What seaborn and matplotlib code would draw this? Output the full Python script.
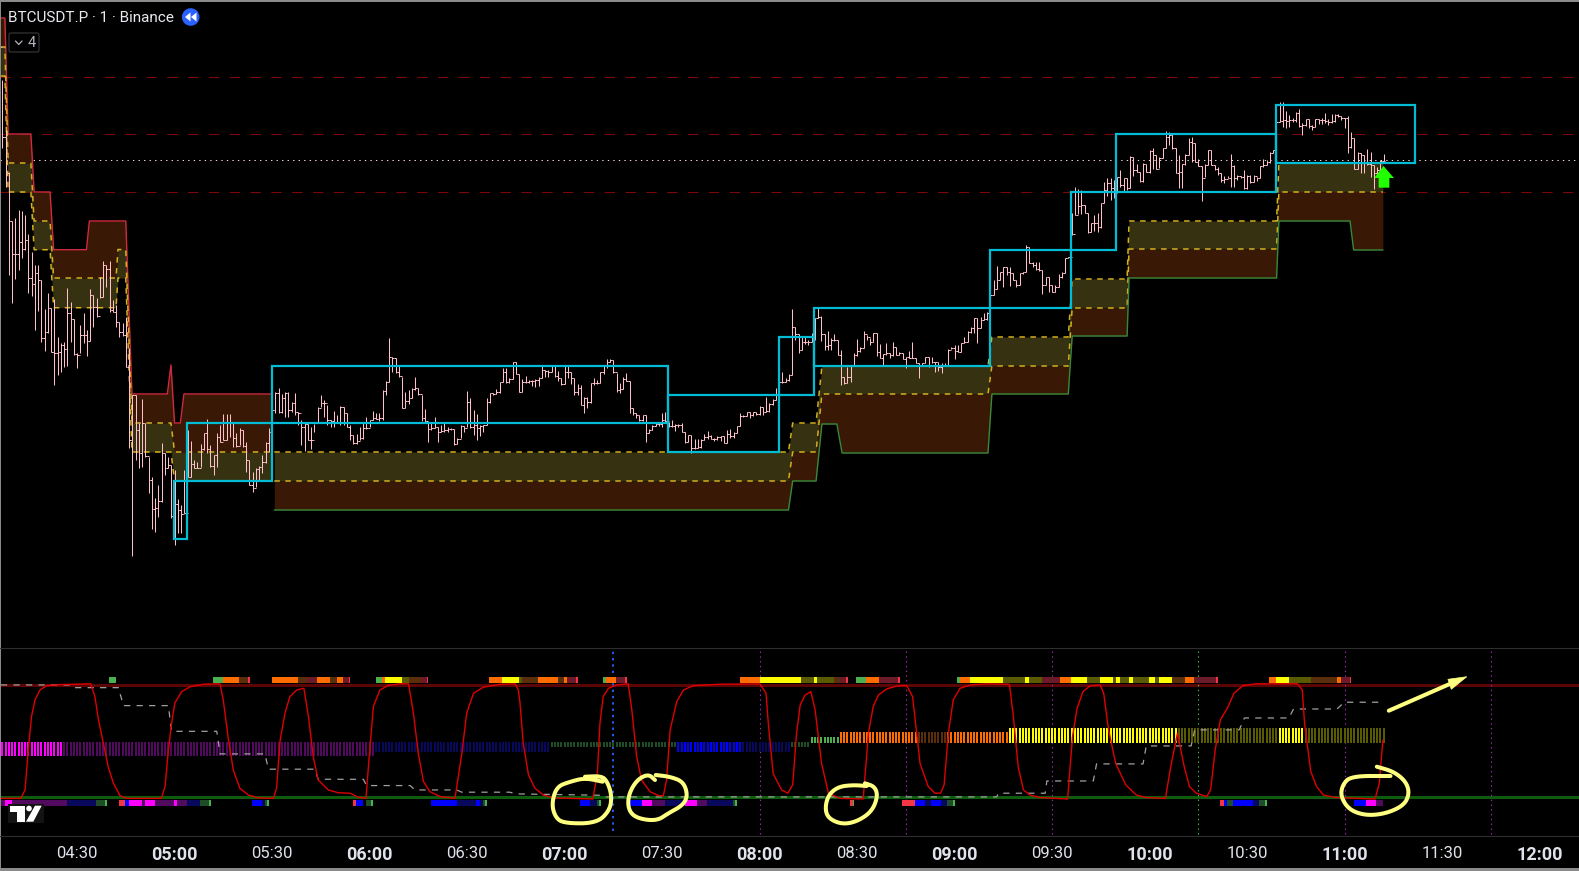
import numpy as np
import pandas as pd
import matplotlib
matplotlib.use('Agg')
import matplotlib.pyplot as plt
from matplotlib.patches import Rectangle, Polygon, Circle, FancyBboxPatch
import seaborn as sns

# price levels are kept as screen rows, x is minutes of the day
hi_a = [42,80,130,172,221,218,210,211,215,234, 252,265,265,280,309,293,308,299,337,343,
        342,288,302,319,353,325,313,330,289,295, 298,277,261,265,261,300,305,322,323,317,
        348,395,395,423,399,423,457,477,498,485, 443,453,457,465,470,499,505,470,430,441,
        460,462,444,433,419,445,455,433,425,414, 414,414,422,433,428,430,442,460,472,468,
        466,455,442,428,410]
lo_a = [72,148,187,275,303,279,270,258,250,293, 296,330,311,342,351,333,352,385,375,372,
        367,366,342,355,368,353,343,356,341,327, 317,298,297,287,312,312,327,337,336,367,
        448,556,460,468,467,457,493,529,532,517, 502,475,468,518,545,533,533,513,477,477,
        468,468,467,450,453,467,475,467,442,440, 440,437,447,447,445,447,472,485,492,487,
        480,473,463,452,450]
cl_a = [47,137,173,221,254,254,242,249,240,278, 284,273,280,338,332,308,352,353,352,345,
        349,313,319,354,355,335,335,341,295,307, 316,297,265,269,310,312,322,332,335,367,
        440,395,430,453,423,456,480,509,508,501, 453,468,465,516,504,510,514,513,477,464,
        468,468,449,433,449,466,455,437,442,440, 422,422,438,446,430,446,460,485,488,469,
        467,462,443,432,410]

hi_b = [392,388,394,392,392,402,393,412,420,423, 424,427,424,407,395,400,405,420,411,415,
        406,407,413,425,435,434,427,423,417,420, 411,413,413,390,381,338,357,358,365,377,
        392,390,388,377,388,395,409,422,422,417, 427,425,423,427,428,429,438,425,426,391,
        398,410,414,425,425,398,393,393,389,382, 368,368,378,362,362,374,379,376,380,380,
        379,377,366,370,370]
lo_b = [413,413,413,417,417,412,415,425,445,451, 440,449,432,423,407,417,425,427,427,423,
        425,425,427,440,444,444,440,439,429,427, 420,419,421,420,395,382,372,373,377,408,
        408,404,398,390,395,421,422,442,430,428, 442,432,432,432,430,445,444,438,432,427,
        428,435,440,436,432,425,403,395,394,393, 382,383,383,379,374,392,392,383,383,386,
        387,386,378,377,377]
cl_b = [393,412,398,393,410,403,412,413,427,424, 440,440,423,408,403,403,420,421,423,422,
        407,413,427,435,443,441,438,428,428,420, 418,419,418,391,382,357,358,372,376,408,
        401,398,389,388,394,418,421,429,428,427, 432,431,430,429,429,444,439,426,428,402,
        427,425,428,426,425,402,393,394,392,382, 372,382,379,362,374,392,382,382,381,381,
        380,378,370,371,372]

hi_c = [365,365,371,378,365,365,372,378,384,385, 397,397,383,378,380,372,365,359,359,360,
        373,383,377,373,381,408,413,415,415,415, 429,425,422,423,413,412,422,420,424,424,
        423,432,435,435,439,439,439,434,431,435, 438,436,436,436,430,429,432,426,413,415,
        412,412,412,412,406,407,397,403,399,388, 381,372,378,374,309,327,334,337,337,340,
        333,318,308]
lo_c = [372,377,381,385,384,378,384,395,395,405, 413,408,403,385,384,383,374,368,362,373,
        392,393,389,381,413,415,418,421,421,442, 433,430,426,426,427,422,427,427,431,427,
        432,443,442,453,449,448,448,440,439,439, 441,440,441,443,443,438,438,433,426,417,
        416,418,416,415,415,415,412,412,405,400, 395,383,382,381,375,340,353,350,344,345,
        342,340,318]
cl_c = [366,376,378,384,372,372,378,392,388,405, 398,402,383,383,383,372,366,362,360,372,
        390,389,379,381,408,413,415,420,415,433, 430,426,424,424,420,421,426,426,425,425,
        432,442,435,448,448,447,440,437,436,439, 439,437,436,443,434,436,433,426,416,416,
        412,415,412,414,407,412,411,404,400,394, 382,382,380,375,327,334,350,342,342,342,
        339,318,317]

hi_d = [316,334,331,338,334,340,350,377,367,365, 353,339,347,331,335,338,333,333,344,354,
        343,353,342,347,352,353,357,351,342,358, 363,363,357,357,357,362,362,363,363,349,
        347,345,345,343,337,331,327,318,318,317, 313,312,277,280,266,272,267,267,267,273,
        280,273,272,245,247,262,262,262,270,277, 277,285,285,274,272,258,257]
lo_d = [341,350,350,350,341,355,385,384,383,382, 365,356,352,348,340,345,342,356,358,365,
        355,358,356,355,355,359,368,358,358,363, 378,365,363,367,363,372,371,373,366,365,
        349,359,352,352,343,342,333,333,343,328, 320,320,312,295,289,280,287,275,286,280,
        287,285,274,272,263,267,270,271,294,285, 292,292,292,287,278,273,258]
cl_d = [334,346,345,340,340,355,377,383,377,365, 355,351,348,334,337,342,333,352,358,354,
        353,355,347,355,353,359,357,358,358,363, 365,363,357,365,362,362,367,365,365,350,
        348,351,352,343,342,332,328,318,328,320, 319,313,295,289,280,272,267,272,273,280,
        285,273,272,247,263,265,269,270,285,277, 285,292,287,277,273,258,257]

hi_e = [213,187,189,190,205,213,223,215,213,203, 182,178,178,180,177,170,178,178,156,157,
        164,172,163,164,150,148,155,157,148,131, 132,134,148,155,164,154,138,137,143,159,
        166,164,150,150,165,167,173,176,176,154, 165,175,176,170,175,175,175,177,166,159,
        160,152,150,120,102,102,111,115,118,112, 109,123,119,119,125,119,119,118,113,119,
        114,114,114,116,118,116,132,138,152,153, 155,149,152,165,167,160,154]
lo_e = [235,215,214,214,213,233,232,231,232,228, 203,196,200,198,192,187,192,190,188,176,
        172,182,182,172,173,169,169,168,158,148, 145,149,173,188,188,165,155,162,162,166,
        201,177,165,165,170,175,182,183,178,187, 187,180,178,189,189,183,182,181,178,167,
        165,163,153,164,122,127,128,127,122,122, 127,135,126,128,130,127,124,124,123,125,
        123,122,117,120,128,153,148,169,169,173, 173,165,177,189,175,170,161]
cl_e = [234,215,206,205,213,232,223,223,227,203, 190,183,188,193,177,185,178,188,157,170,
        172,181,164,172,151,155,169,158,148,137, 135,148,173,172,164,155,142,143,162,166,
        178,165,150,165,169,173,180,179,178,166, 178,176,177,188,176,182,176,178,166,165,
        162,153,150,122,121,120,121,120,120,113, 126,125,119,126,127,119,120,120,121,122,
        121,115,116,118,118,147,138,169,153,155, 163,164,165,173,170,161,161]

# resistance stack on the left side of the chart
upper_t = [246.5,247.8,248.8,255.8,256.8,261.7,262.8,272.9,273.8,282.0,282.6,285.0,286.9,297.8,298.9,300.0,301.8,302.9,329.7]
upper_red = [18,18,134,134,192,192,249.7,249.7,221,221,221,221,394,394,365,423,423,394,394]
upper_mid = [47,47,163,163,221,221,278,278,278,278,249.5,249.5,423,423,423,452,452,452,452]
upper_low = [76,76,192,192,249.7,249.7,307.7,307.7,307.7,307.7,278,278,452,452,452,481,481,481,481]

# support stack, later part of the chart
lower_t = [330.7,488.9,490.2,497.4,499.2,503.8,505.4,550.3,551.5,575.0,576.2,593.1,593.7,639.1,639.8,661.7,662.8,671.8]
lower_top = [452,452,423,423,366,366,366,366,337,337,279,279,221,221,163,163,163,163]
lower_mid = [481,481,452,452,394,394,394,394,366,366,308,308,249,249,192,192,192,192]
lower_green = [510,510,481,481,424,424,453,453,394,394,336,336,278,278,221,221,250,250]

box_start = [299.8,303.8,330.0,451.8,486.0,496.8,551.0,575.8,589.7,638.9]
box_end = [303.8,330.0,451.8,486.0,496.8,551.0,575.8,589.7,638.9,681.8]
box_top = [481,423,366,395,337,308,250,192,134,105]
box_bottom = [539,481,423,452,395,366,308,250,192,163]

level_rows = [76.7,134,192]
last_price_row = 160.5

osc_t = [246.6,252.7,254,255,256,257.1,258.6,260.7,264.8,274.2,275.5,276.6,278.1,279.6,281.2,283.2,285.3,295.9,297.1,298.1,
         299.1,300.1,302.2,304.8,308.9,314,315,316.6,318.1,320.1,322.7,325.8,330.4,331.4,332.5,334,335.5,337.6,339.8,341.2,
         342.7,344.2,347.3,350.4,354,356.6,358.9,359.9,361.2,363.2,365.8,369.4,372,373.5,375,376.6,378.6,381.7,386.3,388.4,
         389.9,392,395,400.2,404.8,405.8,406.3,407.3,408.9,410.9,413.5,416.6,428.7,430.1,430.9,431.9,433.5,436,439.6,440.7,
         442.2,443.7,446.3,448.9,450.4,451.4,452.5,454.5,456.6,459.6,467.8,480.1,482,482.7,484.2,486.8,488.7,490.2,491.4,492.5,
         494,495.8,497.1,499.1,501.2,504.8,511.9,513.5,515,516.6,519.1,522.2,525.3,527.1,529.4,531.9,534,535.7,536.8,538.1,
         539.6,541.7,544.8,549.9,556.9,558.1,559.6,561.2,563.2,566.3,574.8,576.3,577.7,579.5,581.6,584.8,585.9,587.4,589.6,592.7,
         595.9,599.1,604.9,606.5,608.6,610.7,612.3,614.4,617.6,618.8,620.2,621.8,623.9,626,628.7,632.9,645.6,647,647.7,649.6,
         651.4,653.5,657.2,669.4,670.7,671.8]
osc_v = [-1,-1,6.5,42,72,87,95.5,99.4,100.3,101,89.6,69,48,27,12.5,1.5,-1,-1,9.5,42,
         66,84,94,98.5,100.6,101,86.6,51,24,8,2,-0.6,-1,8,51,75,89.6,95.5,97,72,
         36,15.4,6.5,4,3.6,0,-1,36,81,95.5,99.7,101,101,75,39,14,5,0.6,-1,39,
         75,92.6,98,100.6,101,95.5,84,48,20,8,2,-0.6,-1.5,21,66,89.6,97,100,101,78,
         36,15.4,5,1.5,1.2,15.4,60,85,95.5,99.4,100.6,101,92.6,66,21,6.5,3.6,11,57,82,
         91,94,78,30,3.6,-1,-1.5,57,81,91,96.4,99,99.4,89.6,30,9.5,3.6,3.6,11,57,
         86.6,97,100,101,100.6,72,27,6.5,2,-0.3,-1.5,54,79,94,99,100,92.6,60,30,11,
         2,-0.3,-1,27,57,27,9.5,3.6,0.6,6.5,42,69,79,92.6,99.4,101,101,95.5,66,23,
         9.5,2,-0.3,-1.5,12.5,51]

# grey dashed stepped average: flat stretch, then the next one
avg_t = [246.6,267.8,268.9,282.7,284.3,298.1,299.1,313,314,327.8,328.9,343.2,344.2,358.1,359.1,372.5,374,386.8,388.4,403.2,
         404.8,431,432,553,553.5,563.2,567.9,568.4,582.7,583.7,598,599,612.8,613.9,627.6,629.2,642.9,644.3,657.7,659.9,671.8]
avg_v = [100,100,97.6,97.6,81.6,81.6,58.7,58.7,38.6,38.6,25,25,16,16,10.4,10.4,6.5,6.5,4.5,4.5,
         3,1.8,0.3,0.3,3.6,3.6,3.6,14.5,14.5,29.7,29.7,45.7,45.7,60,60,70.6,70.6,78.6,78.6,84.6,84.6]

hist_start = [247,266,362,416,455,475,490,496,505,529,538,557,609,640,648]
hist_end = [265,361,415,454,474,489,495,504,528,537,556,608,639,647,672]
hist_state = ['magenta','purple','navy','dkgreen','blue','navy','dkgreen','green','orange','brown','orange','yellow','olive','yellow','olive']
hist_top = [49.3,49.3,49.3,49.3,49.3,49.3,49.3,53.7,58,58,58,61.7,61.7,61.7,61.7]
hist_bottom = [37,37,40.4,44.8,40.4,40.4,44.8,48.4,48.4,48.4,48.4,48.4,48.4,48.4,48.4]

top_strip = [(279.8,282,'green'),(311.9,315,'green'),(315,319.8,'orange'),(319.8,322.5,'brown'),(322.5,323.2,'red'),
             (330,337.9,'orange'),(337.9,340.9,'brown'),(340.9,343.7,'dkred'),(343.7,347.8,'orange'),(347.8,349.9,'brown'),
             (349.9,351.9,'orange'),(351.9,353.8,'dkred'),(353.8,354,'red'),(362,363.8,'green'),(363.8,364.8,'orange'),
             (364.8,370,'yellow'),(370,372,'olive'),(372,375.7,'brown'),(375.7,377.8,'dkred'),(377.8,378,'red'),
             (396.8,400.7,'orange'),(400.7,406,'yellow'),(406,406.8,'olive'),(406.8,411.7,'brown'),(411.7,418,'orange'),
             (418,419.8,'brown'),(419.8,420.8,'orange'),(420.8,423.5,'dkred'),(423.5,424.1,'red'),(431.8,432.8,'green'),
             (432.8,435.8,'orange'),(435.8,438.6,'dkred'),(438.6,439.2,'red'),(474,480,'orange'),(480,492.8,'yellow'),
             (492.8,496.8,'olive'),(496.8,497.7,'yellow'),(497.7,502.9,'olive'),(502.9,504.8,'brown'),(504.8,506.6,'dkred'),
             (506.6,507.2,'red'),(509.7,512.7,'green'),(512.7,516.8,'orange'),(516.8,522.6,'dkred'),(522.6,523.2,'red'),
             (540.8,541.7,'green'),(541.7,544.8,'orange'),(544.8,554.9,'yellow'),(554.9,561.7,'olive'),(561.7,562.9,'yellow'),
             (562.9,566.9,'olive'),(566.9,572.6,'dkred'),(572.6,575.8,'orange'),(575.8,580.8,'yellow'),(580.8,584.8,'olive'),
             (584.8,588.8,'yellow'),(588.8,589.7,'olive'),(589.7,590.9,'yellow'),(590.9,593.7,'olive'),(593.7,594.9,'yellow'),
             (594.9,599.8,'olive'),(599.8,601.7,'yellow'),(601.7,602.9,'olive'),(602.9,607,'yellow'),(607,610.9,'brown'),
             (610.9,613.7,'orange'),(613.7,620.4,'dkred'),(620.4,621,'red'),(636.7,638.9,'orange'),(638.9,642.8,'yellow'),
             (642.8,649.6,'olive'),(649.6,657.6,'brown'),(657.6,658.9,'orange'),(658.9,661.6,'dkred'),(661.6,661.9,'red')]

bottom_strip = [(246.6,247.8,'purple'),(247.8,250,'magenta'),(250,266.8,'purple'),(266.8,275.8,'navy'),(275.8,278.6,'dkgreen'),
                (278.6,279.2,'green'),(282.9,284.8,'red'),(284.8,286,'blue'),(286,290,'magenta'),(290,290.9,'purple'),
                (290.9,294,'magenta'),(294,299.8,'purple'),(299.8,300.8,'magenta'),(300.8,303.8,'purple'),(303.8,307.8,'navy'),
                (307.8,310.6,'dkgreen'),(310.6,311.2,'green'),(323.8,326.9,'blue'),(326.9,327.8,'navy'),(327.8,328.4,'dkgreen'),
                (328.4,329.1,'green'),(354.9,355.8,'red'),(355.8,358,'blue'),(358.9,360.5,'dkgreen'),(360.5,361.1,'green'),
                (378.9,386.9,'blue'),(386.9,392.8,'navy'),(392.8,394,'blue'),(394,394.9,'navy'),(394.9,395.5,'dkgreen'),
                (395.5,396.1,'green'),(424.8,427.8,'blue'),(427.8,430,'navy'),(430,430.6,'dkgreen'),(430.6,431.2,'green'),
                (439.9,443.8,'blue'),(443.8,446.9,'magenta'),(446.9,450.9,'purple'),(450.9,457,'navy'),(457,460.8,'magenta'),
                (460.8,463.8,'purple'),(463.8,471.8,'navy'),(471.8,472.5,'dkgreen'),(472.5,473.1,'green'),(507.8,508.8,'red'),
                (508.8,509.1,'green'),(523.8,527.8,'red'),(527.8,530.9,'blue'),(530.9,532.8,'navy'),(532.8,535.8,'blue'),
                (535.8,537.7,'navy'),(537.7,539.5,'dkgreen'),(539.5,540.1,'green'),(621.7,622.9,'red'),(622.9,623.8,'blue'),
                (623.8,625.7,'dkgreen'),(625.7,631.8,'blue'),(631.8,633.6,'navy'),(633.6,635.5,'dkgreen'),(635.5,636.1,'green'),
                (662.8,666.7,'blue'),(666.7,669.7,'magenta'),(669.7,671.8,'purple')]

session_minutes = [480,525,570,660,705]
tick_minutes = list(range(270,721,30))
tick_labels = ['04:30','05:00','05:30','06:00','06:30','07:00','07:30','08:00','08:30','09:00','09:30','10:00','10:30','11:00','11:30','12:00']

# hand drawn yellow marks, screen pixels
scrawl_1 = [(585,776.7),(601.7,776),(607.3,781.7),(611.7,795),(610,810),(596.7,823.3),(563.3,823.3),(555,816.7),(551.7,803.3),(556.7,786.7),(570,781.7),(585,778),(602.7,781.7)]
scrawl_2 = [(655,780),(648.3,774),(636.7,780),(628.3,795),(628.3,810),(636.7,818.3),(656.7,821),(668.3,813.3),(683.3,805),(687.7,795),(683.3,781.7),(670,776.7),(655.7,775)]
scrawl_3 = [(865,783.3),(875,786.7),(877.7,796.7),(871.7,811.7),(856.7,821.7),(841.7,824.3),(828.3,818.3),(825,808.3),(828.3,795),(838.3,786.7),(853.3,785),(866.7,786)]
scrawl_4 = [(1376.8,766.7),(1394,771.7),(1406,781.7),(1409.4,793.3),(1404.3,805),(1387,813.3),(1366.5,815.7),(1349.3,810),(1340.7,796.7),(1342.4,785),(1351,776),(1390.5,776)]

colors = {'magenta':'#ff00ff','purple':'#520a5e','navy':'#08085c','dkgreen':'#1f4d28','green':'#4caf50','blue':'#0000ff',
          'orange':'#ff6d00','brown':'#5a2e0a','dkred':'#6a1a28','red':'#f23645','yellow':'#ffff00','olive':'#5a5a00'}
brown_fill = '#391805'
olive_fill = '#363211'
dash_yellow = '#d4b020'
pink = '#ffc0cb'

sns.set_theme(style='dark', rc={'figure.facecolor':'black','axes.facecolor':'black','savefig.facecolor':'black'})
plt.rcParams['font.family'] = ['Roboto','DejaVu Sans']


def bar_frame(start, hi, lo, cl):
    return pd.DataFrame({'t': start+np.arange(len(cl)), 'hi': hi, 'lo': lo, 'cl': cl})


def soften(pts, rounds=3):
    # corner cutting so the hand drawn strokes do not look like polygons
    pts = np.array(pts, dtype=float)
    for _ in range(rounds):
        q = 0.75*pts[:-1]+0.25*pts[1:]
        r = 0.25*pts[:-1]+0.75*pts[1:]
        pts = np.vstack([pts[0], np.column_stack([q, r]).reshape(-1, 2), pts[-1]])
    return pts


bars = pd.concat([bar_frame(246,hi_a,lo_a,cl_a), bar_frame(331,hi_b,lo_b,cl_b), bar_frame(416,hi_c,lo_c,cl_c),
                  bar_frame(499,hi_d,lo_d,cl_d), bar_frame(576,hi_e,lo_e,cl_e)], ignore_index=True)
bars['op'] = bars['cl'].shift(1).fillna(bars['hi'])
upper = pd.DataFrame({'t':upper_t,'red':upper_red,'mid':upper_mid,'low':upper_low})
lower = pd.DataFrame({'t':lower_t,'top':lower_top,'mid':lower_mid,'green':lower_green})
osc = pd.DataFrame({'t':osc_t,'v':osc_v})
avg = pd.DataFrame({'t':avg_t,'v':avg_v})

W, H = 1579, 871
fig = plt.figure(figsize=(W/100,H/100), dpi=100)
ax = fig.add_axes([0,(H-648)/H,1,(648-3)/H])
ax2 = fig.add_axes([0,(H-836)/H,1,(836-648)/H])
xlim = (246.3,246.3+W/3.25)
for a in (ax,ax2):
    a.set_xlim(xlim)
    for s in a.spines.values():
        s.set_visible(False)
ax.set_ylim(648,3)
ax2.set_ylim(-34.5,132.9)

# main pane
for r in level_rows:
    ax.axhline(r,color='#7f0606',lw=0.75,ls=(0,(10,10)),zorder=1)
ax.axhline(last_price_row,color='#f5d5dc',lw=0.75,ls=(0,(1.3,4)),zorder=1)

ax.fill_between(upper['t'],upper['red'],upper['mid'],color=brown_fill,lw=0,zorder=2)
ax.fill_between(upper['t'],upper['mid'],upper['low'],color=olive_fill,lw=0,zorder=2)
ax.fill_between(lower['t'],lower['top'],lower['mid'],color=olive_fill,lw=0,zorder=2)
ax.fill_between(lower['t'],lower['mid'],lower['green'],color=brown_fill,lw=0,zorder=2)

dash = (0,(3.6,3.6))
sns.lineplot(data=upper,x='t',y='red',ax=ax,color='#d02a3e',lw=1,estimator=None,sort=False,zorder=3)
sns.lineplot(data=upper,x='t',y='mid',ax=ax,color=dash_yellow,lw=1.1,linestyle=dash,estimator=None,sort=False,zorder=3)
sns.lineplot(data=upper,x='t',y='low',ax=ax,color=dash_yellow,lw=1.1,linestyle=dash,estimator=None,sort=False,zorder=3)
sns.lineplot(data=lower,x='t',y='top',ax=ax,color=dash_yellow,lw=1.1,linestyle=dash,estimator=None,sort=False,zorder=3)
sns.lineplot(data=lower,x='t',y='mid',ax=ax,color=dash_yellow,lw=1.1,linestyle=dash,estimator=None,sort=False,zorder=3)
sns.lineplot(data=lower,x='t',y='green',ax=ax,color='#358a3a',lw=1,estimator=None,sort=False,zorder=3)

bar_lw = 0.72
ax.vlines(bars['t'],bars['hi'],bars['lo'],color=pink,lw=bar_lw,zorder=4,snap=True)
ax.hlines(bars['op'],bars['t']-0.5,bars['t'],color=pink,lw=bar_lw,zorder=4,snap=True)
ax.hlines(bars['cl'],bars['t'],bars['t']+0.5,color=pink,lw=bar_lw,zorder=4,snap=True)

for s,e,t,b in zip(box_start,box_end,box_top,box_bottom):
    ax.add_patch(Rectangle((s,t),e-s,b-t,fill=False,ec='#00bcd4',lw=1.6,zorder=5))

# signal arrow under the last bar
arrow_t = [672,669.1,670.5,670.5,673.8,673.8,675.2]
arrow_y = [166,178,178,187.7,187.7,178,178]
ax.add_patch(Polygon(list(zip(arrow_t,arrow_y)),closed=True,fc='#22ff00',ec='none',zorder=6))

# oscillator pane
ax2.axhline(100,color='#5c0505',lw=2.2,zorder=1)
ax2.axhline(0,color='#0f5c0f',lw=2.2,zorder=1)
for m in session_minutes:
    ax2.vlines(m,-33,131,color='#9c27b0',lw=0.8,ls=(0,(1.3,3)),zorder=1)
ax2.vlines(615,-33,131,color='#4caf50',lw=0.8,ls=(0,(1.3,3)),zorder=1)
ax2.vlines(435,-30,131,color='#2962ff',lw=1.3,ls=(0,(1.3,2.2)),zorder=1)

for s,e,state,t,b in zip(hist_start,hist_end,hist_state,hist_top,hist_bottom):
    m = np.arange(s,e+1)
    ax2.vlines(m,b,t,color=colors[state],lw=1.44,zorder=2,snap=True)
for s,e,state in top_strip:
    ax2.broken_barh([(s,e-s)],(102,5.1),color=colors[state],lw=0,zorder=2)
for s,e,state in bottom_strip:
    ax2.broken_barh([(s,e-s)],(-7.4,5),color=colors[state],lw=0,zorder=2)

sns.lineplot(data=avg,x='t',y='v',ax=ax2,color='#a0a0a0',lw=0.9,linestyle=(0,(5,5)),estimator=None,sort=False,zorder=3)
sns.lineplot(data=osc,x='t',y='v',ax=ax2,color='#e00000',lw=1,estimator=None,sort=False,zorder=4)

ax.set_xlabel('')
ax.set_ylabel('')
ax2.set_xlabel('')
ax2.set_ylabel('')
ax.set_xticks([])
ax.set_yticks([])
ax2.set_yticks([])
ax2.set_xticks(tick_minutes)
ax2.set_xticklabels(tick_labels)
ax2.tick_params(axis='x',length=0,pad=7,labelcolor='#e0e3eb',labelsize=12)
for lab,m in zip(ax2.get_xticklabels(),tick_minutes):
    if m%60==0:
        lab.set_fontweight('bold')
        lab.set_fontsize(13)

# overlay in screen pixels for the window furniture and the hand drawing
top = fig.add_axes([0,0,1,1],zorder=10)
top.set_xlim(0,W)
top.set_ylim(H,0)
top.axis('off')
top.patch.set_alpha(0)
top.add_patch(Rectangle((0,0),W,2.5,fc='#8a8a8a',ec='none'))
top.add_patch(Rectangle((0,0),1,H,fc='#8a8a8a',ec='none'))
top.add_patch(Rectangle((0,868),W,3,fc='#8a8a8a',ec='none'))
top.plot([0,W],[648,648],color='#2e2e2e',lw=0.8)
top.plot([0,W],[836,836],color='#2e2e2e',lw=0.8)

top.text(8,17.5,'BTCUSDT.P · 1 · Binance',color='#e8eaf0',fontsize=11,va='center',ha='left')
top.add_patch(Circle((190.7,17),8.8,fc='#2962ff',ec='none'))
top.add_patch(Polygon([(190.5,12.5),(190.5,21.5),(185,17)],fc='white',ec='none'))
top.add_patch(Polygon([(196.5,12.5),(196.5,21.5),(191,17)],fc='white',ec='none'))
top.add_patch(FancyBboxPatch((9,33),30,19,boxstyle='round,pad=0,rounding_size=2',fc='black',ec='#3a3a3a',lw=0.8))
top.plot([15.5,18.7,22],[41,44.5,41],color='#b2b5be',lw=0.9)
top.text(31.5,43,'4',color='#b2b5be',fontsize=10.5,ha='center',va='center')

# tradingview mark
top.add_patch(Rectangle((8,804),36,19,fc='#131313',ec='none'))
top.add_patch(Rectangle((10,805.7),15,6,fc='white',ec='none'))
top.add_patch(Rectangle((17.3,811),7.7,10.7,fc='white',ec='none'))
top.add_patch(Circle((29,808.5),2.8,fc='white',ec='none'))
top.add_patch(Polygon([(26,821.7),(35,805.7),(41.7,805.7),(33.3,821.7)],fc='white',ec='none'))

for pts in (scrawl_1,scrawl_2,scrawl_3,scrawl_4):
    p = soften(pts)
    top.plot(p[:,0],p[:,1],color='#ffff80',lw=2.9,solid_capstyle='round',solid_joinstyle='round')
top.plot([1388.8,1452],[710.7,683],color='#ffff80',lw=2.9,solid_capstyle='round')
top.add_patch(Polygon([(1447.9,679.3),(1466.8,676.7),(1451.3,689.3)],fc='#ffff80',ec='#ffff80',lw=0.5))

fig.savefig('out.png',dpi=100,facecolor='black')
